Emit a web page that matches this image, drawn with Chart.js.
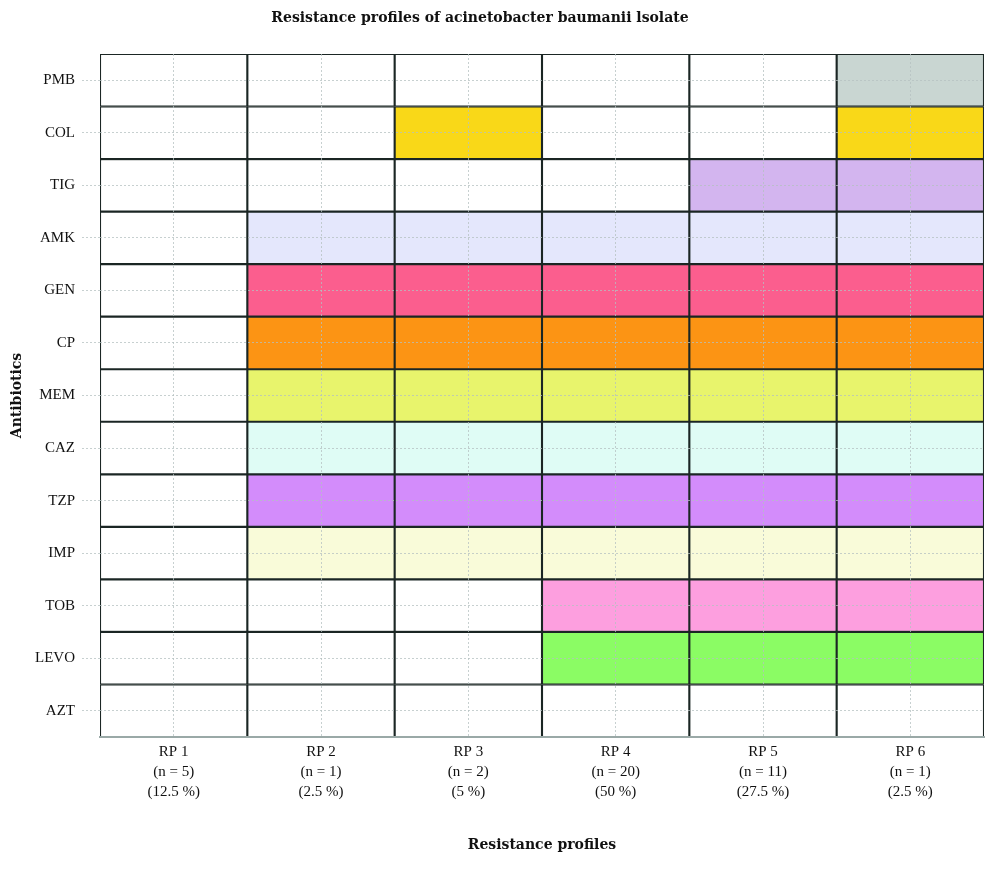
<!DOCTYPE html>
<html>
<head>
<meta charset="utf-8">
<script src="https://cdn.jsdelivr.net/npm/chart.js@4/dist/chart.umd.min.js"></script>
<style>
  html, body { margin: 0; padding: 0; background: #fff; }
  canvas { display: block; }
</style>
</head>
<body>
<canvas id="c" width="1000" height="872"></canvas>
<script>
const chartTitle = 'Resistance profiles of acinetobacter baumanii lsolate';
const antibiotics = ['PMB','COL','TIG','AMK','GEN','CP','MEM','CAZ','TZP','IMP','TOB','LEVO','AZT'];
const profiles = ['RP 1','RP 2','RP 3','RP 4','RP 5','RP 6'];
const profileN = ['(n = 5)','(n = 1)','(n = 2)','(n = 20)','(n = 11)','(n = 1)'];
const profilePct = ['(12.5 %)','(2.5 %)','(5 %)','(50 %)','(27.5 %)','(2.5 %)'];
// 1 = resistant (coloured cell), rows follow antibiotics, columns follow profiles
const resistance = [
  [0,0,0,0,0,1], // PMB
  [0,0,1,0,0,1], // COL
  [0,0,0,0,1,1], // TIG
  [0,1,1,1,1,1], // AMK
  [0,1,1,1,1,1], // GEN
  [0,1,1,1,1,1], // CP
  [0,1,1,1,1,1], // MEM
  [0,1,1,1,1,1], // CAZ
  [0,1,1,1,1,1], // TZP
  [0,1,1,1,1,1], // IMP
  [0,0,0,1,1,1], // TOB
  [0,0,0,1,1,1], // LEVO
  [0,0,0,0,0,0]  // AZT
];
const rowColors = ['#c9d6d2','#f9d818','#d3b5ef','#e4e7fc','#fb5e8e','#fc9414','#e8f46c','#dffcf5','#d38cfb','#f9fbd9','#fd9fdf','#8bfc64','#ffffff'];

const FONT = "'Liberation Serif', 'DejaVu Serif', serif";
const TFONT = "'DejaVu Serif', 'Liberation Serif', serif";

const datasets = profiles.map((p, j) => ({
  label: p,
  data: antibiotics.map(() => 1),
  backgroundColor: ctx => resistance[ctx.dataIndex][j] ? rowColors[ctx.dataIndex] : '#ffffff',
  borderColor: '#1b2624',
  borderWidth: 1.4,
  borderSkipped: false,
  barPercentage: 1,
  categoryPercentage: 1
}));

const titlePlugin = {
  id: 'topTitle',
  afterDraw(chart) {
    const ctx = chart.ctx;
    ctx.save();
    ctx.font = "bold 14px " + TFONT;
    ctx.fillStyle = '#111';
    ctx.textAlign = 'center';
    ctx.textBaseline = 'middle';
    ctx.fillText(chartTitle, 480, 18);
    ctx.restore();
  }
};

const gridColor = 'rgba(180,192,192,0.75)';

new Chart(document.getElementById('c'), {
  type: 'bar',
  data: { labels: antibiotics, datasets },
  options: {
    indexAxis: 'y',
    responsive: false,
    animation: false,
    devicePixelRatio: 1,
    layout: { padding: { top: 54, right: 16, bottom: 0, left: 0 } },
    plugins: { legend: { display: false }, tooltip: { enabled: false }, title: { display: false } },
    scales: {
      x: {
        type: 'linear',
        stacked: true,
        min: 0,
        max: profiles.length,
        afterBuildTicks: s => { s.ticks = profiles.map((_, i) => ({ value: i + 0.5 })); },
        afterFit: s => { s.height = 135; },
        grid: { z: 1, color: gridColor, drawTicks: false, lineWidth: 1 },
        border: { display: true, color: '#9aa9a7', width: 2, z: 2, dash: [2, 2] },
        ticks: {
          padding: 5,
          color: '#111',
          font: { family: FONT, size: 15, lineHeight: 1.33 },
          maxRotation: 0,
          autoSkip: false,
          callback: (v, i) => [profiles[i], profileN[i], profilePct[i]]
        },
        title: {
          display: true,
          text: 'Resistance profiles',
          color: '#111',
          font: { family: TFONT, size: 14, weight: 'bold' },
          padding: { top: 0, bottom: 18 }
        }
      },
      y: {
        type: 'category',
        stacked: true,
        offset: true,
        afterFit: s => { s.width = 100; },
        grid: { z: 1, offset: false, color: gridColor, tickBorderDash: [2, 2], tickLength: 18, lineWidth: 1, tickColor: gridColor },
        border: { display: false, dash: [2, 2] },
        ticks: {
          padding: 7,
          color: '#111',
          font: { family: FONT, size: 15 }
        },
        title: {
          display: true,
          text: 'Antibiotics',
          color: '#111',
          font: { family: TFONT, size: 14, weight: 'bold' },
          padding: { top: 9, bottom: 0 }
        }
      }
    }
  },
  plugins: [titlePlugin]
});
</script>
</body>
</html>
